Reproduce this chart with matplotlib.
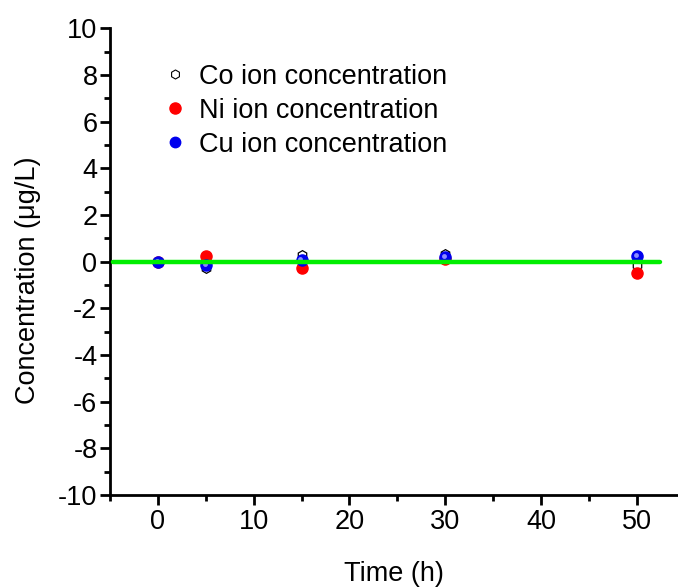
import matplotlib
matplotlib.use("Agg")
import matplotlib.pyplot as plt
from matplotlib import transforms
from matplotlib.ticker import MultipleLocator

plt.rcParams['font.family'] = ['Liberation Sans', 'DejaVu Sans']
plt.rcParams['axes.unicode_minus'] = False

# sampling times (h)
time_h = [0, 5, 15, 30, 50]
# ion concentrations (ug/L)
co_conc = [0.0, -0.27, 0.27, 0.32, -0.15]
ni_conc = [0.0, 0.26, -0.29, 0.12, -0.5]
cu_conc = [0.0, -0.13, 0.07, 0.2, 0.24]
# zero reference line
ref_x = [-4.7, 52.4]
ref_y = [0, 0]

fig = plt.figure(figsize=(6.78, 5.88), dpi=100)
ax = fig.add_axes([0.1622, 0.158, 0.8378, 0.794])

ax.plot(time_h, co_conc, linestyle='none', marker='h', markersize=7,
        markerfacecolor='white', markeredgecolor='black', markeredgewidth=0.9)
ax.plot(time_h, ni_conc, linestyle='none', marker='o', markersize=8,
        markerfacecolor='#ff0000', markeredgecolor='#ff0000')
ax.plot(time_h, cu_conc, linestyle='none', marker='o', markersize=8,
        markerfacecolor='#0000ee', markeredgecolor='#0000ee')
# small highlight on the blue balls
hl = transforms.offset_copy(ax.transData, fig=fig, x=-0.8, y=0.8, units='points')
ax.plot(time_h, cu_conc, linestyle='none', marker='o', markersize=3.5,
        markerfacecolor='#8c8cff', markeredgecolor='none', transform=hl)
ax.plot(ref_x, ref_y, color='#00ee00', linewidth=3.2, solid_capstyle='round', zorder=5)

ax.set_xlim(-5, 54.3)
ax.set_ylim(-10, 10)
ax.xaxis.set_major_locator(MultipleLocator(10))
ax.xaxis.set_minor_locator(MultipleLocator(5))
ax.yaxis.set_major_locator(MultipleLocator(2))
ax.yaxis.set_minor_locator(MultipleLocator(1))
for s in ['top', 'right']:
    ax.spines[s].set_visible(False)
for s in ['left', 'bottom']:
    ax.spines[s].set_linewidth(2)
ax.tick_params(which='major', direction='out', length=7, width=2, labelsize=19.5, pad=2)
ax.tick_params(axis='x', which='major', pad=3)
ax.tick_params(which='minor', direction='out', length=4, width=2)
ax.set_xlabel('Time (h)', fontsize=19.5, labelpad=19)
ax.set_ylabel('Concentration (μg/L)', fontsize=19.5)
ax.yaxis.set_label_coords(-0.122, 0.461)

h_co = plt.Line2D([], [], linestyle='none', marker='h', markersize=6.5,
                  markerfacecolor='white', markeredgecolor='black', markeredgewidth=0.8)
h_ni = plt.Line2D([], [], linestyle='none', marker='o', markersize=8,
                  markerfacecolor='#ff0000', markeredgecolor='#ff0000')
h_cu = plt.Line2D([], [], linestyle='none', marker='o', markersize=7.5,
                  markerfacecolor='#0000ee', markeredgecolor='#0000ee')
ax.legend([h_co, h_ni, h_cu],
          ['Co ion concentration', 'Ni ion concentration', 'Cu ion concentration'],
          loc='upper left', bbox_to_anchor=(0.2215, 0.915), bbox_transform=fig.transFigure,
          frameon=False, fontsize=19.5, handlelength=0.8, handletextpad=0.5,
          labelspacing=0.3, borderpad=0)

fig.savefig('out.png', dpi=100)
